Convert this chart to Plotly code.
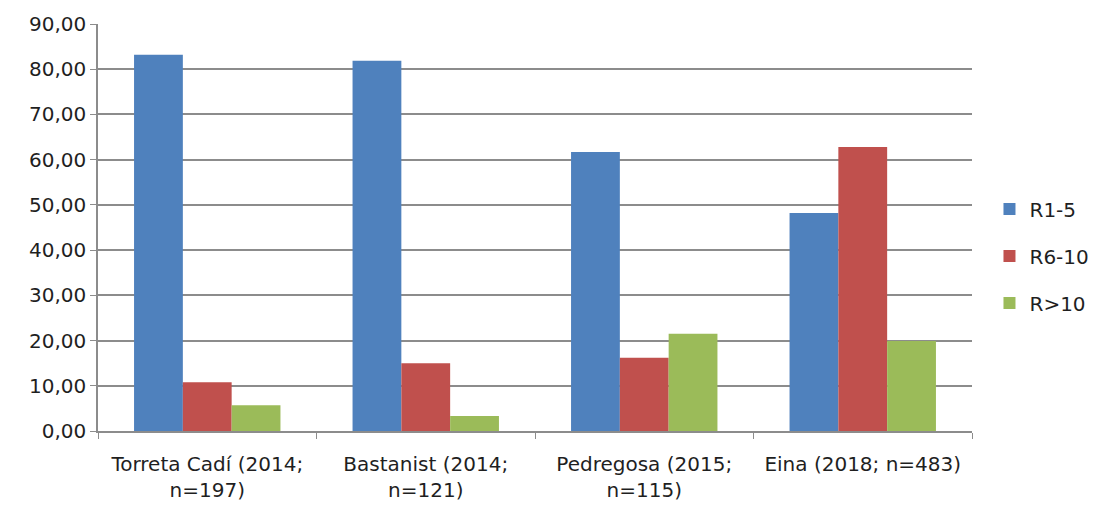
import plotly.graph_objects as go

categories = ["Torreta Cadí (2014;<br>n=197)", "Bastanist (2014;<br>n=121)",
              "Pedregosa (2015;<br>n=115)", "Eina (2018; n=483)"]
r1_5 = [83.2, 81.9, 61.7, 48.2]
r6_10 = [10.8, 15.0, 16.2, 62.8]
r_gt10 = [5.7, 3.3, 21.5, 19.9]
series_names = ["R1-5", "R6-10", "R>10"]
colors = ["#4F81BD", "#C0504D", "#9BBB59"]

fig = go.Figure()
for name, vals, col in zip(series_names, [r1_5, r6_10, r_gt10], colors):
    fig.add_trace(go.Bar(x=categories, y=vals, name=name, marker_color=col,
                         marker_line_width=0, legendgroup=name))

font_family = "'DejaVu Sans', sans-serif"
fig.update_layout(
    width=1103, height=511,
    margin=dict(l=90, r=139, t=16, b=88),
    plot_bgcolor="white", paper_bgcolor="white",
    barmode="group", bargap=0.33, bargroupgap=0,
    separators=",.",
    font=dict(family=font_family, size=20, color="#1f1f1f"),
    legend=dict(x=1.02, y=0.43, yanchor="middle", xanchor="left",
                traceorder="grouped", tracegroupgap=18,
                font=dict(size=20, color="#1f1f1f")),
)
fig.update_yaxes(range=[0, 90], dtick=10, tickformat=".2f",
                 showgrid=True, gridcolor="#8c8c8c", gridwidth=1.5,
                 showline=True, linecolor="#8c8c8c", linewidth=1.5,
                 ticks="outside", ticklen=6, tickcolor="#8c8c8c",
                 zeroline=False, tickfont=dict(size=20), automargin=False)
fig.update_xaxes(showline=True, linecolor="#8c8c8c", linewidth=1.5,
                 ticks="outside", tickson="boundaries", ticklen=6,
                 tickcolor="#8c8c8c", tickfont=dict(size=20), automargin=False,
                 ticklabelstandoff=14)

fig.write_html("out.html")
